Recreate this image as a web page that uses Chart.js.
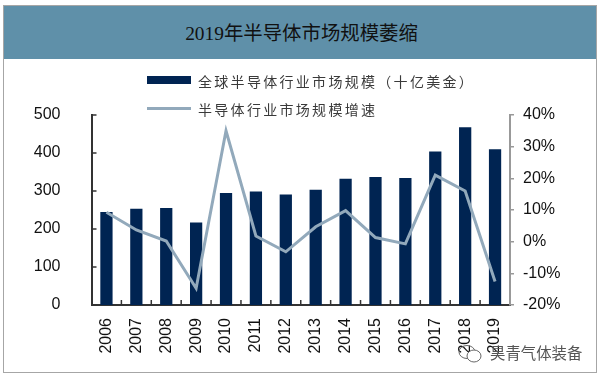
<!DOCTYPE html>
<html lang="zh">
<head>
    <meta charset="UTF-8">
    <title>2019年半导体市场规模萎缩</title>
    <script src="https://cdn.jsdelivr.net/npm/chart.js@4/dist/chart.umd.min.js"></script>
    <style>
        html, body { margin: 0; padding: 0; background: #fff; }
        #page { position: relative; width: 600px; height: 378px; overflow: hidden; filter: blur(0.35px); }
        #frame { position: absolute; left: 3px; top: 5px; width: 592px; height: 366px; border: 1.5px solid #a6a6a6; }
        #header { position: absolute; left: 4px; top: 6px; width: 592px; height: 53px; background: #5f90a9; color: #111;
            font: 19.4px "Liberation Serif", "Noto Sans CJK SC", serif; line-height: 55px; text-align: center; padding-left: 3px; box-sizing: border-box; }
        canvas { position: absolute; left: 0; top: 0; }
        .key { position: absolute; left: 147px; width: 44px; }
        .label { position: absolute; left: 198px; font: 14px "Noto Sans CJK SC", sans-serif; letter-spacing: 2.3px; color: #3a3a3a; line-height: 18px; white-space: nowrap; }
        #mark { position: absolute; left: 490px; top: 342px; font: 15.4px "Noto Sans CJK SC", sans-serif; color: #555; line-height: 20px; white-space: nowrap; }
        #icon { position: absolute; left: 458px; top: 344px; }
    </style>
</head>
<body>
    <div id="page">
        <div id="frame"></div>
        <div id="header"></div>
        <canvas id="chart" width="600" height="378"></canvas>
        <div class="key" id="barKey" style="top: 76px; height: 8px; background: #002452;"></div>
        <div class="label" id="barLabel" style="top: 72px;"></div>
        <div class="key" id="lineKey" style="top: 107px; height: 3px; background: #92a9bb;"></div>
        <div class="label" id="lineLabel" style="top: 100px;"></div>
        <svg id="icon" width="25" height="20" viewBox="0 0 25 20" fill="none" stroke="#666" stroke-width="1">
            <ellipse cx="9" cy="8" rx="8" ry="6.5"/>
            <ellipse cx="16" cy="12" rx="7" ry="6" fill="#fff"/>
        </svg>
        <div id="mark"></div>
    </div>
    <script>
        const titleText = '2019年半导体市场规模萎缩';
        const markText = '昊青气体装备';
        const barName = '全球半导体行业市场规模（十亿美金）';
        const lineName = '半导体行业市场规模增速';
        const years = ['2006', '2007', '2008', '2009', '2010', '2011', '2012', '2013', '2014', '2015', '2016', '2017', '2018', '2019'];
        const marketSize = [245, 253, 255, 217, 295, 299, 291, 303, 332, 337, 334, 404, 468, 410];
        const growth = [9.3, 3.7, 0.2, -14.7, 35, 1.8, -3.2, 4.7, 9.8, 1.3, -0.7, 21, 16, -12.6];

        document.getElementById('header').textContent = titleText;
        document.getElementById('barLabel').textContent = barName;
        document.getElementById('lineLabel').textContent = lineName;
        document.getElementById('mark').textContent = markText;

        // ticks on the left and bottom axes point into the plot, chart.js can't do that by itself
        const innerTicks = {
            id: 'innerTicks',
            afterDatasetsDraw(chart) {
                const { ctx, scales: { x, y } } = chart;
                ctx.save();
                ctx.strokeStyle = '#333';
                ctx.lineWidth = 1.5;
                ctx.beginPath();
                y.ticks.forEach(t => {
                    const py = y.getPixelForValue(t.value);
                    ctx.moveTo(x.left, py);
                    ctx.lineTo(x.left + 5, py);
                });
                const step = (x.right - x.left) / years.length;
                for (let i = 1; i < years.length; i++) {
                    const px = x.getPixelForValue(i) - step / 2;
                    ctx.moveTo(px, y.bottom);
                    ctx.lineTo(px, y.bottom - 5);
                }
                ctx.stroke();
                ctx.restore();
            }
        };

        new Chart(document.getElementById('chart'), {
            type: 'bar',
            data: {
                labels: years,
                datasets: [
                    { type: 'line', label: lineName, data: growth, yAxisID: 'y2', borderColor: '#92a9bb', borderWidth: 3, pointRadius: 0, tension: 0, order: 1 },
                    { label: barName, data: marketSize, yAxisID: 'y', backgroundColor: '#002452', barPercentage: 0.41, categoryPercentage: 1, order: 2 }
                ]
            },
            options: {
                responsive: false,
                animation: false,
                layout: { padding: { top: 115, left: 0, right: 0, bottom: 0 } },
                plugins: { legend: { display: false }, tooltip: { enabled: false } },
                scales: {
                    x: {
                        grid: { display: false },
                        border: { color: '#333', width: 2 },
                        ticks: { color: '#111', font: { family: 'Liberation Sans', size: 16 }, minRotation: 90, maxRotation: 90, padding: 5, autoSkip: false },
                        afterFit(s) { s.height = 73; }
                    },
                    y: {
                        min: 0, max: 500,
                        grid: { display: false },
                        border: { color: '#333', width: 2 },
                        ticks: { color: '#111', font: { family: 'Liberation Sans', size: 16 }, stepSize: 100, padding: 23 },
                        afterFit(s) { s.width = 91.5; }
                    },
                    y2: {
                        position: 'right',
                        min: -20, max: 40,
                        grid: { drawOnChartArea: false, tickLength: 4, color: '#999', lineWidth: 1.5 },
                        border: { color: '#999', width: 2 },
                        ticks: { color: '#111', font: { family: 'Liberation Sans', size: 16 }, stepSize: 10, padding: 9, callback: v => v + '%' },
                        afterFit(s) { s.width = 90; }
                    }
                }
            },
            plugins: [innerTicks]
        });
    </script>
</body>
</html>
